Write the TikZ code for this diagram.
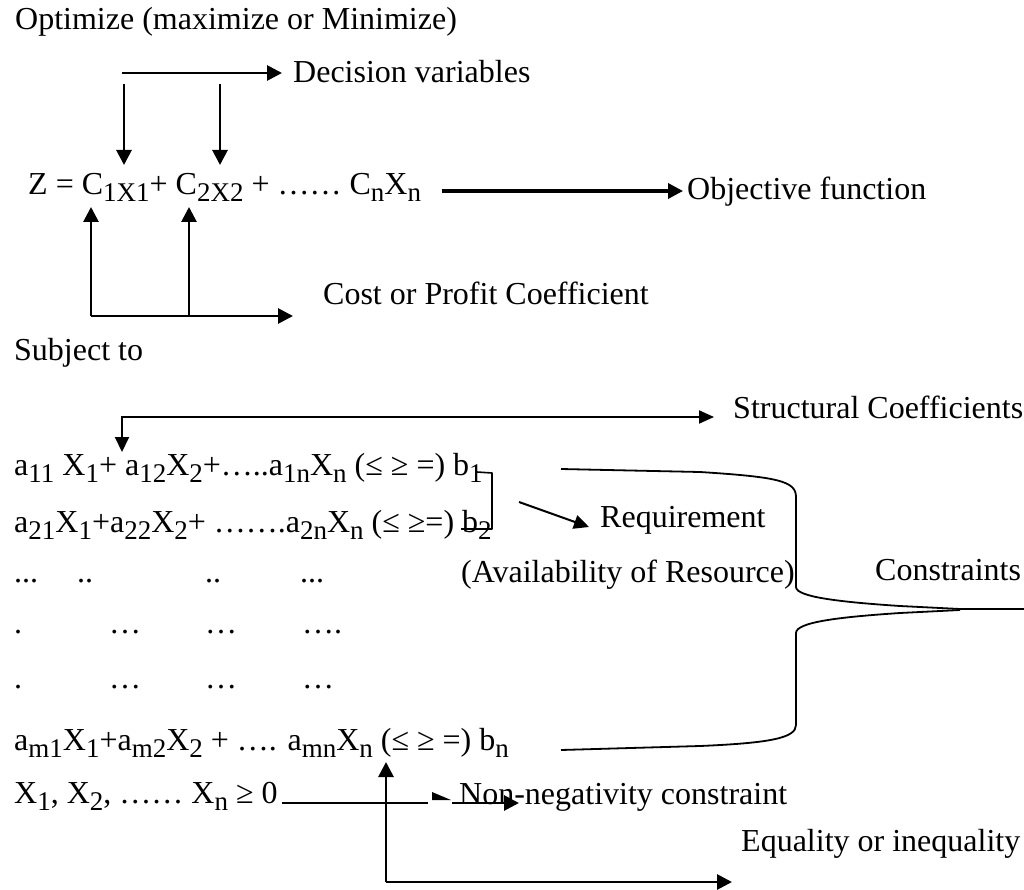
\documentclass[tikz,border=0pt]{standalone}
\usepackage{fontspec}
\setmainfont{Liberation Serif}
\usetikzlibrary{arrows.meta}
\newcommand\sbx[1]{\raisebox{-7pt}{\fontsize{27}{28}\selectfont #1}}
\begin{document}
\begin{tikzpicture}[x=1pt,y=-1pt,
  txt/.style={anchor=base west, inner sep=0pt, font=\fontsize{32}{38}\selectfont},
  arr/.style={line width=2.8pt, -{Triangle[length=15pt,width=15pt]}},
  thinarr/.style={line width=2pt, -{Triangle[length=15pt,width=14pt]}},
  bracelines/.style={line width=1.8pt, line join=round},
  ]
\useasboundingbox (0,0) rectangle (1024,890);

% ---------- texts ----------
\node[txt] (opt) at (15,30) {Optimize (maximize or Minimize)};
\node[txt] (dec) at (293,83) {Decision variables};
\node[txt] (zeq) at (28,195) {Z = C\sbx{1X1}+ C\sbx{2X2} + …… C\sbx{n}X\sbx{n}};
\node[txt] (obj) at (687,200) {Objective function};
\node[txt] (cost) at (323,305) {Cost or Profit Coefficient};
\node[txt] (subj) at (14,360) {Subject to};
\node[txt] (struct) at (733,418) {Structural Coefficients};
\node[txt] (row1) at (14,475) {a\sbx{11} X\sbx{1}+ a\sbx{12}X\sbx{2}+…..a\sbx{1n}X\sbx{n} (≤ ≥ =) b\sbx{1}};
\node[txt] (row2) at (14,532) {a\sbx{21}X\sbx{1}+a\sbx{22}X\sbx{2}+ …….a\sbx{2n}X\sbx{n} (≤ ≥=) b\sbx{2}};
\node[txt] (req) at (600,527) {Requirement};
\node[txt] (avail) at (461,582) {(Availability of Resource)};
\node[txt] (cons) at (875,580) {Constraints};
% dot rows
\node[txt] (d31) at (14,582) {...};
\node[txt] (d32) at (77,582) {..};
\node[txt] (d33) at (205,582) {..};
\node[txt] (d34) at (300,582) {...};
\node[txt] (d41) at (14,633) {.};
\node[txt] (d42) at (109,633) {…};
\node[txt] (d43) at (205,633) {…};
\node[txt] (d44) at (302,633) {….};
\node[txt] (d51) at (14,688) {.};
\node[txt] (d52) at (109,688) {…};
\node[txt] (d53) at (205,688) {…};
\node[txt] (d54) at (302,688) {…};
\node[txt] (rowm) at (14,750) {a\sbx{m1}X\sbx{1}+a\sbx{m2}X\sbx{2} + …. a\sbx{mn}X\sbx{n} (≤ ≥ =) b\sbx{n}};
\node[txt] (rowx) at (14,803) {X\sbx{1}, X\sbx{2}, …… X\sbx{n} ≥ 0};
\node[txt] (nonneg) at (459,804) {Non-negativity constraint};
\node[txt] (equal) at (741,851) {Equality or inequality};

% ---------- coordinates ----------
\coordinate (decS) at (122,73);
\coordinate (decT) at (282,73);
\coordinate (dv1S) at (124,84);
\coordinate (dv1T) at (124,165);
\coordinate (dv2S) at (220,84);
\coordinate (dv2T) at (220,165);
\coordinate (objS) at (442,191);
\coordinate (objT) at (683,191);
\coordinate (cA) at (91,316);
\coordinate (cB) at (189,316);
\coordinate (cAT) at (91,207);
\coordinate (cBT) at (189,207);
\coordinate (cT) at (293,316);
\coordinate (sT1) at (122,452);
\coordinate (sC) at (122,417);
\coordinate (sT2) at (714,417);
\coordinate (rqS) at (519,502);
\coordinate (rqT) at (589,527);
\coordinate (nnS) at (282,803);
\coordinate (nnT) at (519,803);
\coordinate (eqC) at (386,882);
\coordinate (eqT1) at (386,762);
\coordinate (eqT2) at (732,882);

% ---------- connectors ----------
\draw[arr] (decS) -- (decT);
\draw[arr] (dv1S) -- (dv1T);
\draw[arr] (dv2S) -- (dv2T);
\draw[arr, line width=3.4pt] (objS) -- (objT);
\draw[arr] (cA) -- (cAT);
\draw[arr] (cB) -- (cBT);
\draw[arr] (cA) -- (cT);
\draw[line width=2pt, {Triangle[length=15pt,width=14pt]}-{Triangle[length=15pt,width=13pt]}] (sT1) -- (sC) -- (sT2);
\draw[thinarr] (rqS) -- (rqT);
\draw[arr] (nnS) -- (nnT);
\draw[arr] (eqC) -- (eqT1);
\draw[arr] (eqC) -- (eqT2);

% small mark on the non-negativity line
\fill[white] (428,800) rectangle (452,806);
\fill[black] (432,792) -- (451,800) -- (432,800) -- cycle;

% requirement bracket b1-b2
\draw[line width=1.6pt, line join=round] (477,472) -- (492,473) -- (492,529) -- (461,529);

% constraints brace
\draw[bracelines] (561,469) -- (700,472) .. controls (778,477) and (796,481) .. (796,497)
  -- (796,587) .. controls (796,597) and (840,602) .. (900,606) -- (960,609) -- (1024,609);
\draw[bracelines] (960,610) -- (900,613) .. controls (840,617) and (796,622) .. (796,633)
  -- (796,725) .. controls (796,738) and (770,743) .. (700,746) -- (561,750);
\end{tikzpicture}
\end{document}
